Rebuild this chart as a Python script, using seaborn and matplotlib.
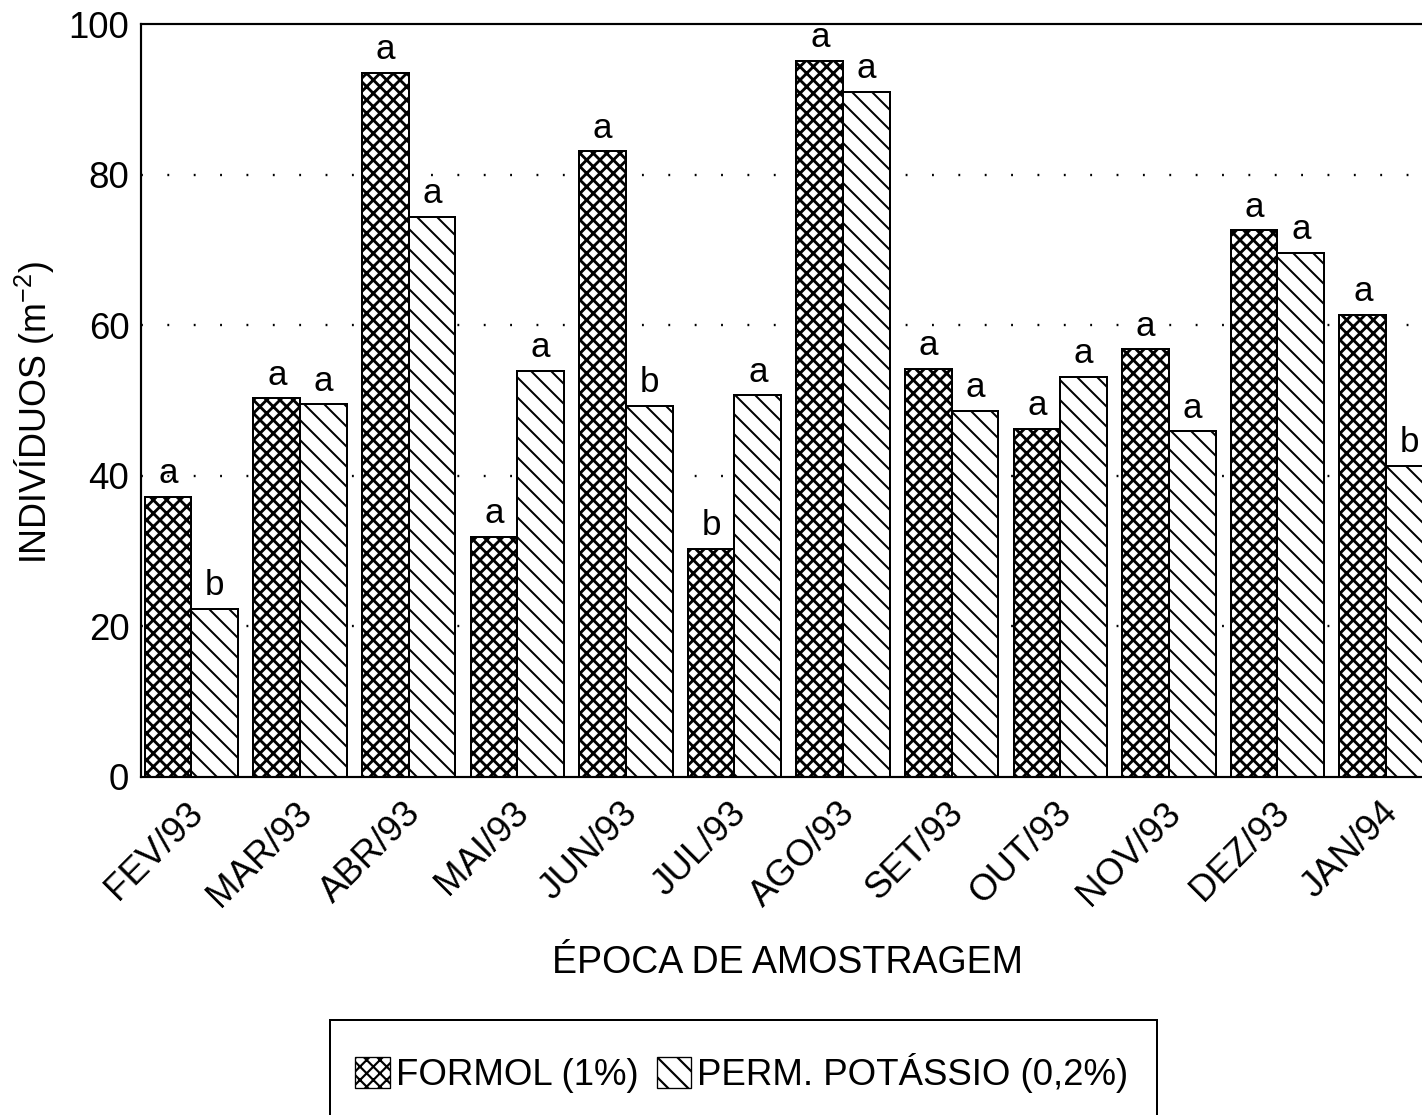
import matplotlib
matplotlib.use("Agg")
import matplotlib.pyplot as plt
import matplotlib.transforms as mtransforms
from matplotlib.patches import Patch, Rectangle
import seaborn as sns
import pandas as pd

# ---- data ----
months = ["FEV/93", "MAR/93", "ABR/93", "MAI/93", "JUN/93", "JUL/93",
          "AGO/93", "SET/93", "OUT/93", "NOV/93", "DEZ/93", "JAN/94"]
formol = [37.2, 50.3, 93.5, 31.9, 83.1, 30.3, 95.1, 54.2, 46.2, 56.8, 72.6, 61.4]
perm = [22.3, 49.5, 74.4, 53.9, 49.3, 50.7, 91.0, 48.6, 53.1, 45.9, 69.6, 41.3]
letters_formol = ["a", "a", "a", "a", "a", "b", "a", "a", "a", "a", "a", "a"]
letters_perm = ["b", "a", "a", "a", "b", "a", "a", "a", "a", "a", "a", "b"]
series_names = ["FORMOL (1%)", "PERM. POTÁSSIO (0,2%)"]
yticks = [0, 20, 40, 60, 80, 100]

df = pd.DataFrame({
    "mes": months * 2,
    "valor": formol + perm,
    "trat": [series_names[0]] * len(months) + [series_names[1]] * len(months),
})

sns.set_style("white")
plt.rcParams["font.family"] = ["Liberation Sans", "DejaVu Sans"]
plt.rcParams["mathtext.default"] = "regular"
plt.rcParams["hatch.linewidth"] = 1.3
plt.rcParams["hatch.color"] = "black"
plt.rcParams["text.color"] = "black"
plt.rcParams["axes.labelcolor"] = "black"
plt.rcParams["xtick.color"] = "black"
plt.rcParams["ytick.color"] = "black"

DPI = 120
W, H = 1422, 1115
fig = plt.figure(figsize=(W / DPI, H / DPI), dpi=DPI)
ax = fig.add_axes([141 / W, 1 - 777 / H, 1 - 141 / W, (777 - 24) / H])

sns.barplot(data=df, x="mes", y="valor", hue="trat", order=months,
            hue_order=series_names, palette=["white", "white"],
            edgecolor="black", linewidth=1.2, width=0.86, gap=0,
            legend=False, ax=ax, zorder=2)

hatches = ["xxx", "\\\\"]
hlw = [1.7, 1.2]
for cont, h, lw in zip(ax.containers, hatches, hlw):
    for p in cont:
        p.set_hatch(h)
        p.set_edgecolor("black")
        if hasattr(p, "set_hatch_linewidth"):
            p.set_hatch_linewidth(lw)

for cont, labs in zip(ax.containers, [letters_formol, letters_perm]):
    ax.bar_label(cont, labels=labs, padding=4, fontsize=21, color="black")

ax.set_xlim(-0.465, (1422 - 191.5) / 108.6)
ax.set_ylim(0, 100)
ax.set_yticks(yticks)
ax.set_yticklabels([str(v) for v in yticks])

for v in yticks[1:-1]:
    ax.axhline(v, color="black", lw=1.4, linestyle=(0, (0.8, 10.5)), zorder=1)

for s in ["left", "bottom", "top"]:
    ax.spines[s].set_visible(True)
    ax.spines[s].set_color("black")
    ax.spines[s].set_linewidth(1.3)
ax.spines["right"].set_visible(False)

ax.tick_params(axis="y", length=0, pad=7, labelsize=22, labelcolor="black")
ax.tick_params(axis="x", length=0, pad=11, labelsize=22, labelcolor="black")
offset = mtransforms.ScaledTranslation(-6 / DPI, 0, fig.dpi_scale_trans)
for lab in ax.get_xticklabels():
    lab.set_rotation(45)
    lab.set_ha("right")
    lab.set_va("top")
    lab.set_rotation_mode("anchor")
    lab.set_transform(lab.get_transform() + offset)

ax.set_xlabel("ÉPOCA DE AMOSTRAGEM", fontsize=22.5, color="black")
ax.xaxis.set_label_coords((788 - 141) / 1281, (777 - 963) / 753)
ax.xaxis.label.set_va("center")
ax.set_ylabel("INDIVÍDUOS (m$^{-2}$)", fontsize=21.5, color="black")
ax.yaxis.set_label_coords((35 - 141) / 1281, (777 - 413) / 753)
ax.yaxis.label.set_va("center")

# legend box
fig.patches.append(Rectangle((330 / W, 1 - 1130 / H), (1157 - 330) / W, 110 / H,
                             transform=fig.transFigure, fill=False,
                             edgecolor="black", lw=1.2))
handles = [Patch(facecolor="white", edgecolor="black", hatch=h, lw=0.8) for h in hatches]
leg = fig.legend(handles, series_names, loc="center left",
                 bbox_to_anchor=(337 / W, 1 - 1073 / H), frameon=False,
                 fontsize=22, handlelength=0.95, handleheight=0.95,
                 handletextpad=0.15, columnspacing=0.5, ncol=2, borderpad=0)
for t in leg.get_texts():
    t.set_color("black")

fig.savefig("out.png", dpi=DPI)
